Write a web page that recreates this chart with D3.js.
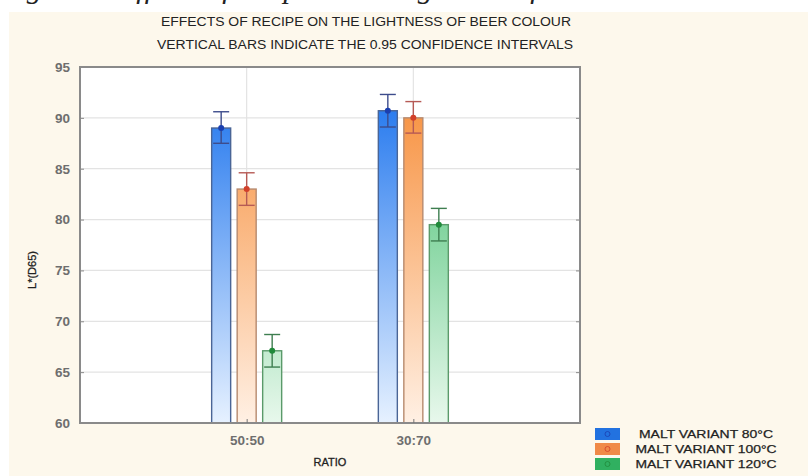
<!DOCTYPE html>
<html>
<head>
<meta charset="utf-8">
<script src="https://cdn.jsdelivr.net/npm/d3@7"></script>
<style>
  html, body { margin: 0; padding: 0; background: #ffffff; }
  svg { display: block; }
</style>
</head>
<body>
<svg id="chart" width="808" height="476"></svg>
<script>
// Ratio groups and malt variants
const categories = ["50:50", "30:70"];
const seriesNames = ["MALT VARIANT 80°C", "MALT VARIANT 100°C", "MALT VARIANT 120°C"];

// Mean L*(D65) per variant, one value per ratio group
const means80 = [89.0, 90.7];
const means100 = [83.0, 90.0];
const means120 = [67.1, 79.5];

// 0.95 confidence interval bounds
const lower80 = [87.5, 89.1];
const upper80 = [90.6, 92.3];
const lower100 = [81.4, 88.5];
const upper100 = [84.6, 91.6];
const lower120 = [65.5, 77.9];
const upper120 = [68.7, 81.1];

const yTicks = [60, 65, 70, 75, 80, 85, 90, 95];

const series = [
  { name: seriesNames[0], means: means80, lo: lower80, hi: upper80,
    top: "#2478ee", bottom: "#e6f1ff", stroke: "#4a6596", err: "#3d4c8c", dot: "#1a3fb0", swatch: "#2272e0" },
  { name: seriesNames[1], means: means100, lo: lower100, hi: upper100,
    top: "#f7913f", bottom: "#fff0e4", stroke: "#b78a6e", err: "#b65a55", dot: "#d2402a", swatch: "#f08a48" },
  { name: seriesNames[2], means: means120, lo: lower120, hi: upper120,
    top: "#3fbd6c", bottom: "#e8f8ec", stroke: "#5a9a6a", err: "#3e7e50", dot: "#1f8a3a", swatch: "#30b060" }
];

const svg = d3.select("#chart");

// page background panel
svg.append("rect").attr("x", 9).attr("y", 12).attr("width", 799).attr("height", 464).attr("fill", "#fdf8ec");

// figure caption running above the panel (only its descenders fall inside the page)
svg.append("text")
  .attr("x", 0).attr("y", -2)
  .attr("font-family", "Liberation Serif, Times New Roman, serif")
  .attr("font-style", "italic").attr("font-size", 30).attr("fill", "#222")
  .text("Figure 4. Effects of recipe on the lightness of beer colour");

const plot = { left: 80, right: 580, top: 67, bottom: 423 };

const x = d3.scalePoint().domain(categories).range([plot.left, plot.right]).padding(1);
const y = d3.scaleLinear().domain([60, 95]).range([plot.bottom, plot.top]);

// titles
const titleFont = "Liberation Sans, Arial, sans-serif";
svg.append("text").attr("x", 366).attr("y", 26).attr("text-anchor", "middle")
  .attr("font-family", titleFont).attr("font-size", 12).attr("fill", "#222")
  .attr("textLength", 410).attr("lengthAdjust", "spacingAndGlyphs")
  .text("EFFECTS OF RECIPE ON THE LIGHTNESS OF BEER COLOUR");
svg.append("text").attr("x", 365).attr("y", 49).attr("text-anchor", "middle")
  .attr("font-family", titleFont).attr("font-size", 12).attr("fill", "#222")
  .attr("textLength", 416).attr("lengthAdjust", "spacingAndGlyphs")
  .text("VERTICAL BARS INDICATE THE 0.95 CONFIDENCE INTERVALS");

// plot area
svg.append("rect").attr("x", plot.left).attr("y", plot.top)
  .attr("width", plot.right - plot.left).attr("height", plot.bottom - plot.top)
  .attr("fill", "#ffffff");

// gridlines
const grid = svg.append("g");
grid.selectAll("line.h").data(yTicks.filter(t => t > 60 && t < 95)).enter().append("line")
  .attr("x1", plot.left).attr("x2", plot.right)
  .attr("y1", d => y(d)).attr("y2", d => y(d))
  .attr("stroke", "#e3e3e3").attr("stroke-width", 1.2);
grid.selectAll("line.v").data(categories).enter().append("line")
  .attr("x1", d => x(d)).attr("x2", d => x(d))
  .attr("y1", plot.top).attr("y2", plot.bottom)
  .attr("stroke", "#e3e3e3").attr("stroke-width", 1.2);

// vertical gradients shared across the plot height
const defs = svg.append("defs");
series.forEach((s, i) => {
  const g = defs.append("linearGradient").attr("id", "grad" + i)
    .attr("gradientUnits", "userSpaceOnUse")
    .attr("x1", 0).attr("x2", 0).attr("y1", y(92)).attr("y2", y(60));
  g.append("stop").attr("offset", "0%").attr("stop-color", s.top);
  g.append("stop").attr("offset", "100%").attr("stop-color", s.bottom);
});

const barW = 19;
const step = 25.5;

const bars = svg.append("g");
series.forEach((s, si) => {
  const offset = (si - 1) * step;
  const gS = bars.append("g");
  const rows = categories.map((c, ci) => ({ c, m: s.means[ci], lo: s.lo[ci], hi: s.hi[ci] }));

  gS.selectAll("rect").data(rows).enter().append("rect")
    .attr("x", d => x(d.c) + offset - barW / 2)
    .attr("y", d => y(d.m))
    .attr("width", barW)
    .attr("height", d => y(60) - y(d.m))
    .attr("fill", "url(#grad" + si + ")")
    .attr("stroke", s.stroke).attr("stroke-width", 1.4);

  // confidence interval whiskers
  gS.selectAll("line.w").data(rows).enter().append("line")
    .attr("x1", d => x(d.c) + offset).attr("x2", d => x(d.c) + offset)
    .attr("y1", d => y(d.lo)).attr("y2", d => y(d.hi))
    .attr("stroke", s.err).attr("stroke-width", 1.4);
  ["lo", "hi"].forEach(k => {
    gS.selectAll("line.c" + k).data(rows).enter().append("line")
      .attr("x1", d => x(d.c) + offset - 8).attr("x2", d => x(d.c) + offset + 8)
      .attr("y1", d => y(d[k])).attr("y2", d => y(d[k]))
      .attr("stroke", s.err).attr("stroke-width", 1.4);
  });
  gS.selectAll("circle").data(rows).enter().append("circle")
    .attr("cx", d => x(d.c) + offset).attr("cy", d => y(d.m)).attr("r", 3)
    .attr("fill", s.dot);
});

// frame
svg.append("rect").attr("x", plot.left).attr("y", plot.top)
  .attr("width", plot.right - plot.left).attr("height", plot.bottom - plot.top)
  .attr("fill", "none").attr("stroke", "#8a8a8a").attr("stroke-width", 2);

// axes
const labelFont = "Liberation Sans, Arial, sans-serif";
const yAxis = svg.append("g").attr("transform", `translate(${plot.left},0)`)
  .call(d3.axisLeft(y).tickValues(yTicks).tickSize(-4).tickPadding(10));
yAxis.select(".domain").remove();
yAxis.selectAll(".tick line").attr("stroke", "#8a8a8a");
yAxis.selectAll("text").attr("font-family", labelFont).attr("font-size", 13.5)
  .attr("font-weight", "bold").attr("fill", "#6e6e6e");

const yAxisR = svg.append("g").attr("transform", `translate(${plot.right},0)`)
  .call(d3.axisRight(y).tickValues(yTicks).tickSize(-4).tickFormat(""));
yAxisR.select(".domain").remove();
yAxisR.selectAll(".tick line").attr("stroke", "#8a8a8a");

const xAxis = svg.append("g").attr("transform", `translate(0,${plot.bottom})`)
  .call(d3.axisBottom(x).tickSize(-4).tickPadding(12));
xAxis.select(".domain").remove();
xAxis.selectAll(".tick line").attr("stroke", "#777");
xAxis.selectAll("text").attr("font-family", labelFont).attr("font-size", 13.5)
  .attr("font-weight", "bold").attr("fill", "#6e6e6e");

svg.append("text").attr("x", 330).attr("y", 466).attr("text-anchor", "middle")
  .attr("font-family", labelFont).attr("font-size", 11).attr("fill", "#222")
  .attr("stroke", "#222").attr("stroke-width", 0.3)
  .text("RATIO");

svg.append("text").attr("transform", "translate(36,270) rotate(-90)")
  .attr("text-anchor", "middle")
  .attr("font-family", labelFont).attr("font-size", 11).attr("fill", "#222")
  .attr("stroke", "#222").attr("stroke-width", 0.3)
  .text("L*(D65)");

// legend
const legend = svg.append("g");
series.forEach((s, i) => {
  const ly = 434 + i * 15;
  legend.append("rect").attr("x", 595).attr("y", ly - 6).attr("width", 25).attr("height", 12)
    .attr("fill", s.swatch);
  legend.append("circle").attr("cx", 607.5).attr("cy", ly).attr("r", 2.5)
    .attr("fill", "none").attr("stroke", s.dot).attr("stroke-width", 0.8);
  legend.append("text").attr("x", 706).attr("y", ly + 4).attr("text-anchor", "middle")
    .attr("font-family", labelFont).attr("font-size", 11.5).attr("fill", "#222")
    .attr("stroke", "#222").attr("stroke-width", 0.25)
    .attr("textLength", i === 0 ? 134 : 141).attr("lengthAdjust", "spacingAndGlyphs")
    .text(s.name);
});
</script>
</body>
</html>
